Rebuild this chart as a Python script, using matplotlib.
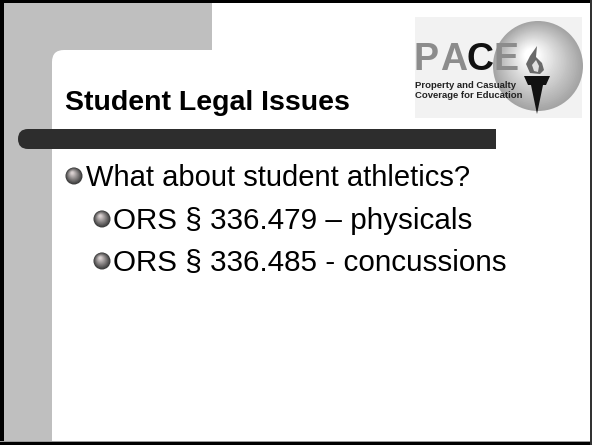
import matplotlib
matplotlib.use("Agg")
import matplotlib.pyplot as plt
from matplotlib.patches import Rectangle, FancyBboxPatch, Circle, Polygon
import numpy as np

# ---- slide content ----
title = "Student Legal Issues"
bullet_lines = ["What about student athletics?",
                "ORS § 336.479 – physicals",
                "ORS § 336.485 - concussions"]
bullet_levels = [0, 1, 1]
logo_word = ["P", "A", "C", "E"]
logo_word_colors = ["#8c8c8c", "#8c8c8c", "#111111", "#8c8c8c"]
logo_tagline = ["Property and Casualty", "Coverage for Education"]

W, H = 592, 445
fig = plt.figure(figsize=(W / 100, H / 100), dpi=100)
ax = fig.add_axes([0, 0, 1, 1])
ax.set_xlim(0, W)
ax.set_ylim(H, 0)
ax.axis("off")

FONT = "Liberation Sans"
GRAY = "#bfbfbf"

# background
ax.add_patch(Rectangle((0, 0), W, H, facecolor="white", edgecolor="none", zorder=0))
# gray L-shaped area
ax.add_patch(Rectangle((4, 2), 208, 60, facecolor=GRAY, edgecolor="none", zorder=1))
ax.add_patch(Rectangle((4, 2), 48, 440, facecolor=GRAY, edgecolor="none", zorder=1))
# white panel with rounded corner
ax.add_patch(FancyBboxPatch((52, 50), 560, 420, boxstyle="round,pad=0,rounding_size=12",
                            facecolor="white", edgecolor="none", zorder=2))
# dark bar with rounded left end
ax.add_patch(FancyBboxPatch((18, 129), 200, 20, boxstyle="round,pad=0,rounding_size=10",
                            facecolor="#2d2d2d", edgecolor="none", zorder=3))
ax.add_patch(Rectangle((40, 129), 456, 20, facecolor="#2d2d2d", edgecolor="none", zorder=3))

# frame
ax.add_patch(Rectangle((0, 0), 4, H, facecolor="black", edgecolor="none", zorder=10))
ax.add_patch(Rectangle((0, 0), W, 2.5, facecolor="black", edgecolor="none", zorder=10))
ax.add_patch(Rectangle((0, 442), W, 3, facecolor="black", edgecolor="none", zorder=10))
ax.add_patch(Rectangle((0, 440.5), W, 1.5, facecolor="#9a9a9a", edgecolor="none", zorder=10))
ax.add_patch(Rectangle((590, 0), 2, H, facecolor="#333333", edgecolor="none", zorder=10))

# title
ax.text(65, 110, title, fontsize=20.5, fontweight="bold", family=FONT,
        color="black", va="baseline", ha="left", zorder=5)


def sphere(cx, cy, r, dark, light, z=5, n=14, shift=0.35):
    dark = np.array(matplotlib.colors.to_rgb(dark))
    light = np.array(matplotlib.colors.to_rgb(light))
    for i in range(n):
        t = i / (n - 1)
        rr = r * (1 - 0.85 * t)
        off = r * shift * t
        col = dark * (1 - t) + light * t
        ax.add_patch(Circle((cx - off * 0.6, cy - off), rr, facecolor=col,
                            edgecolor="none", zorder=z))


# bullets and text
baselines = [186, 229, 271]
sizes = [21, 21.3, 21.3]
for text, lvl, yb, fs in zip(bullet_lines, bullet_levels, baselines, sizes):
    bx = 74 if lvl == 0 else 102
    tx = 86 if lvl == 0 else 113
    sphere(bx, yb - 10, 8.5, "#3a3a3a", "#d8d0d0")
    ax.text(tx, yb, text, fontsize=fs, family=FONT, color="black",
            va="baseline", ha="left", zorder=5)

# ---- logo ----
ax.add_patch(Rectangle((415, 17), 167, 101, facecolor="#f2f2f2", edgecolor="none",
                       zorder=4))
sphere(538, 66, 45, "#a4a4a4", "#ffffff", z=4, n=30, shift=0.25)
xs = [414, 440, 467, 494]
for ch, col, x in zip(logo_word, logo_word_colors, xs):
    ax.text(x, 70, ch, fontsize=27, fontweight="bold", family=FONT, color=col,
            va="baseline", ha="left", zorder=6)
ax.text(415, 88, logo_tagline[0], fontsize=6.8, fontweight="bold", family=FONT,
        color="#222222", va="baseline", ha="left", zorder=6)
ax.text(415, 98.5, logo_tagline[1], fontsize=6.8, fontweight="bold", family=FONT,
        color="#222222", va="baseline", ha="left", zorder=6)
# torch
ax.add_patch(Polygon([[524, 76], [550, 76], [546, 85], [528, 85]], closed=True,
                     facecolor="#111111", edgecolor="none", zorder=6))
ax.add_patch(Polygon([[531, 85], [543, 85], [537, 114]], closed=True,
                     facecolor="#111111", edgecolor="none", zorder=6))
# flame
ax.add_patch(Polygon([[530, 73], [526, 64], [530, 56], [537, 46], [536, 57],
                      [542, 63], [544, 70], [540, 74]], closed=True,
                     facecolor="#6a6a6a", edgecolor="none", zorder=6))
ax.add_patch(Polygon([[534, 71], [532, 65], [536, 60], [539, 66], [538, 72]], closed=True,
                     facecolor="#e0e0e0", edgecolor="none", zorder=7))

fig.savefig("out.png", dpi=100)
